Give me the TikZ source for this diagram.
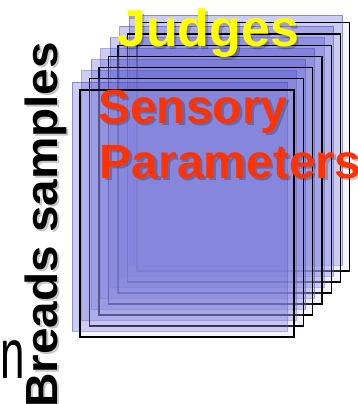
\documentclass[tikz,border=0pt]{standalone}
\usepackage{fontspec}
\setmainfont{Liberation Sans}
\definecolor{cardblue}{RGB}{70,70,205}
\definecolor{cardedge}{RGB}{60,60,170}
\definecolor{cardpale}{RGB}{200,200,240}
\definecolor{judgeyel}{RGB}{255,255,0}
\definecolor{sensred}{RGB}{255,51,0}
\tikzset{
  cardfill/.style={fill=cardblue, fill opacity=0.27, draw=cardedge, draw opacity=0.45, line width=1pt},
  cardline/.style={draw=black, line width=1.2pt, fill=cardpale, fill opacity=0.2},
  bigtext/.style={inner sep=0pt, font=\bfseries\fontsize{#1}{#1}\selectfont},
  shadowtext/.style={text=black, text opacity=0.22}
}
\begin{document}
\begin{tikzpicture}[x=1pt,y=-1pt]
\useasboundingbox (0,0) rectangle (357,404);
\foreach \i in {6,5,...,0}{
  \path[cardfill] (72+9.5*\i, 82-11.1*\i) rectangle (287+9.3*\i, 331-11*\i);
  \path[cardline] (80+9.5*\i, 90-11.2*\i) rectangle (294+9.3*\i, 337-11*\i);
}
% soft shadows
\node[bigtext=52, shadowtext, anchor=base west] (judgesS) at (119.5,49.5) {Judges};
\node[bigtext=48, shadowtext, anchor=base west] (sensS) at (100.5,125.5) {Sensory};
\node[bigtext=48, shadowtext, anchor=base west] (paramS) at (102,180.5) {Parameters};
\node[bigtext=45, shadowtext, anchor=base west, rotate=90] (breadS) at (59.5,410) {\scalebox{1.06}[1]{Breads samples}};
% texts
\node[bigtext=52, text=judgeyel, anchor=base west] (judges) at (117,47) {Judges};
\node[bigtext=48, text=sensred, anchor=base west] (sens) at (98,123) {Sensory};
\node[bigtext=48, text=sensred, anchor=base west] (param) at (99.5,178) {Parameters};
\node[bigtext=45, text=black, anchor=base west, rotate=90] (bread) at (57,408) {\scalebox{1.06}[1]{Breads samples}};
\node[inner sep=0pt, anchor=base west, font=\fontsize{44}{44}\selectfont] (nchar) at (0,378) {\scalebox{1}[1.6]{n}};
\end{tikzpicture}
\end{document}
